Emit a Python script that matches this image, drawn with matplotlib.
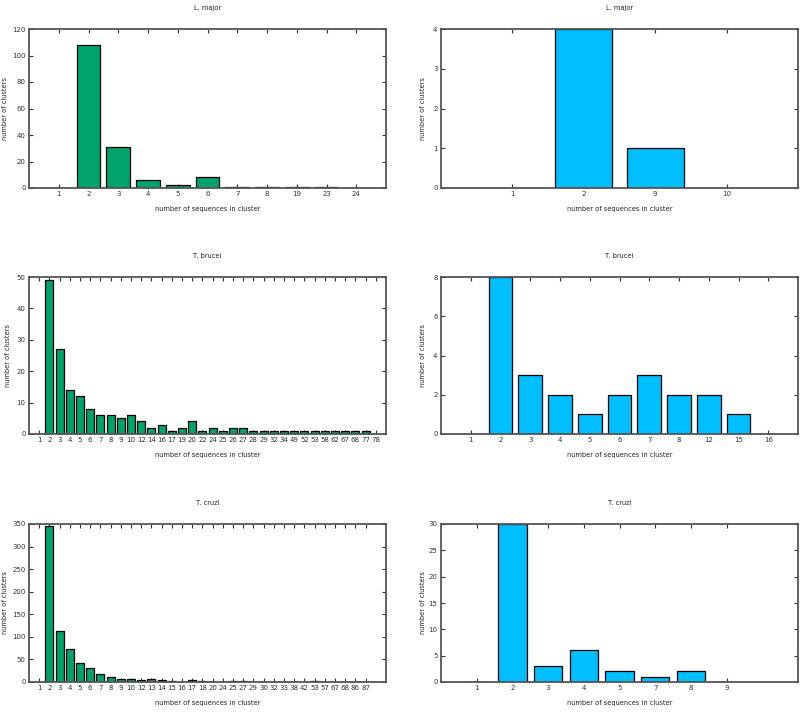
import matplotlib
matplotlib.use('Agg')
import matplotlib.pyplot as plt

# left column: all clusters
lmajor_sizes = ['1', '2', '3', '4', '5', '6', '7', '8', '19', '23', '24']
lmajor_counts = [0, 108, 31, 6, 2, 8, 1, 1, 1, 1, 0]

tbrucei_sizes = ['1', '2', '3', '4', '5', '6', '7', '8', '9', '10', '12', '14', '16', '17',
                 '19', '20', '22', '24', '25', '26', '27', '28', '29', '32', '34', '49',
                 '52', '53', '58', '62', '67', '68', '77', '78']
tbrucei_counts = [0, 49, 27, 14, 12, 8, 6, 6, 5, 6, 4, 2, 3, 1,
                  2, 4, 1, 2, 1, 2, 2, 1, 1, 1, 1, 1,
                  1, 1, 1, 1, 1, 1, 1, 0]

tcruzi_sizes = ['1', '2', '3', '4', '5', '6', '7', '8', '9', '10', '12', '13', '14', '15',
                '16', '17', '18', '20', '24', '25', '27', '29', '30', '32', '33', '38',
                '42', '53', '57', '67', '68', '86', '87']
tcruzi_counts = [0, 346, 113, 74, 42, 30, 18, 10, 7, 6, 4, 7, 5, 3,
                 1, 4, 2, 1, 1, 2, 2, 1, 1, 1, 1, 1,
                 1, 2, 1, 1, 1, 1, 0]

# right column
lmajor_sizes_b = ['1', '2', '9', '10']
lmajor_counts_b = [0, 4, 1, 0]

tbrucei_sizes_b = ['1', '2', '3', '4', '5', '6', '7', '8', '12', '15', '16']
tbrucei_counts_b = [0, 8, 3, 2, 1, 2, 3, 2, 2, 1, 0]

tcruzi_sizes_b = ['1', '2', '3', '4', '5', '7', '8', '9']
tcruzi_counts_b = [0, 30, 3, 6, 2, 1, 2, 0]

GREEN = '#00a46a'
BLUE = '#00bfff'

fig = plt.figure(figsize=(8, 7.12), dpi=100)
W, H = 800, 712


def add_ax(x0, x1, y0, y1):
    return fig.add_axes([x0 / W, 1 - y1 / H, (x1 - x0) / W, (y1 - y0) / H])


def panel(ax, title, sizes, counts, color, ymax, ystep, xmax, ylab_x):
    pos = list(range(len(sizes)))
    ax.bar(pos, counts, width=0.8, color=color, edgecolor='black', linewidth=0.9, zorder=2)
    ax.set_xlim(-1, xmax)
    ax.set_ylim(0, ymax)
    ax.set_xticks(pos)
    ax.set_xticklabels(sizes)
    ax.set_yticks(range(0, ymax + 1, ystep))
    ax.tick_params(direction='in', top=True, right=True, length=3, width=0.8,
                   labelsize=5.0, colors='#333333', pad=2.5)
    for s in ax.spines.values():
        s.set_color('#555555')
        s.set_linewidth(1.3)
    ax.set_title(title, fontsize=4.8, pad=14, color='#222222')
    ax.set_xlabel('number of sequences in cluster', fontsize=4.8, labelpad=6.5, color='#222222')
    ax.set_ylabel('number of clusters', fontsize=4.8, color='#222222')
    ax.yaxis.set_label_coords(ylab_x, 0.5)


rows = [(29, 188), (277, 434), (524, 682)]
cols = [(29, 386), (441, 798)]
left_lab = -0.058
right_lab = -0.042

panel(add_ax(*cols[0], *rows[0]), 'L. major', lmajor_sizes, lmajor_counts, GREEN, 120, 20, 11, left_lab)
panel(add_ax(*cols[0], *rows[1]), 'T. brucei', tbrucei_sizes, tbrucei_counts, GREEN, 50, 10, 34, -0.05)
panel(add_ax(*cols[0], *rows[2]), 'T. cruzi', tcruzi_sizes, tcruzi_counts, GREEN, 350, 50, 34, left_lab)

panel(add_ax(*cols[1], *rows[0]), 'L. major', lmajor_sizes_b, lmajor_counts_b, BLUE, 4, 1, 4, right_lab)
panel(add_ax(*cols[1], *rows[1]), 'T. brucei', tbrucei_sizes_b, tbrucei_counts_b, BLUE, 8, 2, 11, right_lab)
panel(add_ax(*cols[1], *rows[2]), 'T. cruzi', tcruzi_sizes_b, tcruzi_counts_b, BLUE, 30, 5, 9, right_lab)

fig.savefig('out.png', dpi=100)
